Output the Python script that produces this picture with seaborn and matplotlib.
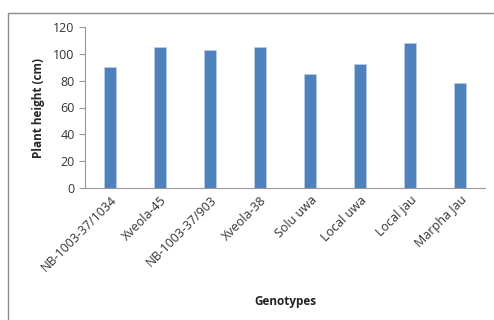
import matplotlib
matplotlib.use("Agg")
import matplotlib.pyplot as plt
import seaborn as sns
import pandas as pd
from matplotlib.patches import Rectangle

# data
genotypes = ["NB-1003-37/1034", "Xveola-45", "NB-1003-37/903", "Xveola-38",
             "Solu uwa", "Local uwa", "Local jau", "Marpha Jau"]
height_cm = [90.3, 104.8, 102.8, 104.8, 85.2, 92.3, 107.8, 78.5]
y_ticks = [0, 20, 40, 60, 80, 100, 120]

df = pd.DataFrame({"Genotypes": genotypes, "Height": height_cm})

sns.set_style("white")
plt.rcParams["font.family"] = ["Open Sans", "DejaVu Sans"]

fig = plt.figure(figsize=(4.94, 3.20), dpi=100)
ax = fig.add_axes([85 / 494, 1 - 188 / 320, 400 / 494, 161 / 320])

sns.barplot(data=df, x="Genotypes", y="Height", color="#4F81BD",
            width=0.25, edgecolor="#b9cde5", linewidth=0.6, ax=ax,
            saturation=1)

ax.set_ylim(0, 120)
ax.set_xlim(-0.5, 7.5)
ax.set_yticks(y_ticks)
ax.tick_params(axis="y", labelsize=9, length=4, width=0.8, left=True,
               direction="out", colors="#999999", labelcolor="#333333")
ax.tick_params(axis="x", labelsize=9, length=0, pad=4, labelcolor="#333333")
plt.setp(ax.get_xticklabels(), rotation=45, ha="right", rotation_mode="anchor")

for s in ["top", "right"]:
    ax.spines[s].set_visible(False)
ax.spines["left"].set_color("#999999")
ax.spines["bottom"].set_color("#999999")
ax.spines["left"].set_linewidth(0.8)
ax.spines["bottom"].set_linewidth(0.8)

ax.set_ylabel("Plant height (cm)", fontsize=8.5, fontweight="bold", labelpad=6)
ax.set_xlabel("")
fig.text(285 / 494, 1 - 302 / 320, "Genotypes", fontsize=8.5,
         fontweight="bold", ha="center", va="center", color="#222222")

# chart-area frame
fig.patches.append(Rectangle((8 / 494, -0.1), 1.0, 1 - 13 / 320 + 0.1,
                             transform=fig.transFigure, fill=False,
                             edgecolor="#8c8c8c", linewidth=1.0))

fig.savefig("out.png", dpi=100)
